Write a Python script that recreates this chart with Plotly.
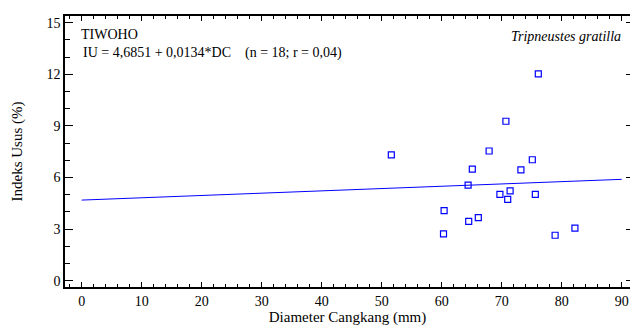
import plotly.graph_objects as go

# Data
diameter_mm = [51.6, 65.1, 67.9, 75.1, 73.2, 64.4, 69.7, 71.4, 71.0, 75.6,
               60.4, 64.5, 66.1, 60.3, 78.9, 82.2, 76.1, 70.7]
indeks_usus = [7.31, 6.49, 7.54, 7.03, 6.44, 5.55, 5.02, 5.22, 4.73, 5.02,
               4.07, 3.45, 3.66, 2.72, 2.64, 3.05, 12.03, 9.27]
intercept = 4.6851
slope = 0.0134
fit_x = [0, 90]
fit_y = [intercept + slope * v for v in fit_x]

x_ticks = [0, 10, 20, 30, 40, 50, 60, 70, 80, 90]
y_ticks = [0, 3, 6, 9, 12, 15]

FONT = "'Liberation Serif', 'Times New Roman', Times, 'DejaVu Serif', serif"
BLUE = "#0000ff"

fig = go.Figure()
fig.add_trace(go.Scatter(x=fit_x, y=fit_y, mode="lines",
                         line=dict(color=BLUE, width=1), showlegend=False,
                         hoverinfo="skip"))
fig.add_trace(go.Scatter(x=diameter_mm, y=indeks_usus, mode="markers",
                         marker=dict(symbol="square-open", size=6, color=BLUE,
                                     line=dict(width=1.2, color=BLUE)),
                         showlegend=False))
# right-side ticks (no spine)
fig.add_trace(go.Scatter(x=[None], y=[None], yaxis="y2", showlegend=False))

W, H = 630, 327
l, r, t, b = 65, 0, 16, 40

fig.update_layout(
    width=W, height=H,
    margin=dict(l=l, r=r, t=t, b=b, autoexpand=False),
    paper_bgcolor="white", plot_bgcolor="white",
    font=dict(family=FONT, size=14, color="black"),
    xaxis=dict(
        range=[-2.78, 91.38], tickvals=x_ticks, ticktext=[str(v) for v in x_ticks],
        showgrid=False, zeroline=False, showline=True, linecolor="black", linewidth=1.5,
        mirror="ticks", ticks="inside", ticklen=5, tickwidth=1, tickcolor="black",
        minor=dict(dtick=2, tick0=0, ticks="inside", ticklen=3, tickwidth=1,
                   tickcolor="black", showgrid=False),
        tickfont=dict(family=FONT, size=14),
        title=dict(text="Diameter Cangkang (mm)", font=dict(family=FONT, size=15), standoff=2),
        automargin=False,
    ),
    yaxis=dict(
        range=[-0.37, 15.39], tickvals=y_ticks, ticktext=[str(v) for v in y_ticks],
        showgrid=False, zeroline=False, showline=True, linecolor="black", linewidth=1.5,
        ticks="inside", ticklen=8, tickwidth=1, tickcolor="black",
        minor=dict(dtick=1, tick0=0, ticks="inside", ticklen=5, tickwidth=1,
                   tickcolor="black", showgrid=False),
        tickfont=dict(family=FONT, size=14),
        title=dict(text="Indeks Usus (%)", font=dict(family=FONT, size=15), standoff=20),
        automargin=False,
    ),
    yaxis2=dict(
        overlaying="y", side="right", range=[-0.37, 15.39], tickvals=y_ticks,
        showticklabels=False, showline=False, showgrid=False, zeroline=False,
        ticks="inside", ticklen=4, tickwidth=1, tickcolor="black", automargin=False,
    ),
)

pw, ph = W - l - r, H - t - b


def ann(text, px, py, anchor):
    return dict(text=text, x=(px - l) / pw, y=(H - b - py) / ph,
                xref="paper", yref="paper", showarrow=False,
                xanchor=anchor, yanchor="middle", font=dict(family=FONT, size=14))


fig.update_layout(annotations=[
    ann("TIWOHO", 79, 34, "left"),
    ann("IU = 4,6851 + 0,0134*DC    (n = 18; r = 0,04)", 81, 53, "left"),
    ann("<i>Tripneustes gratilla</i>", 623, 37, "right"),
])

fig.write_html("out.html")
